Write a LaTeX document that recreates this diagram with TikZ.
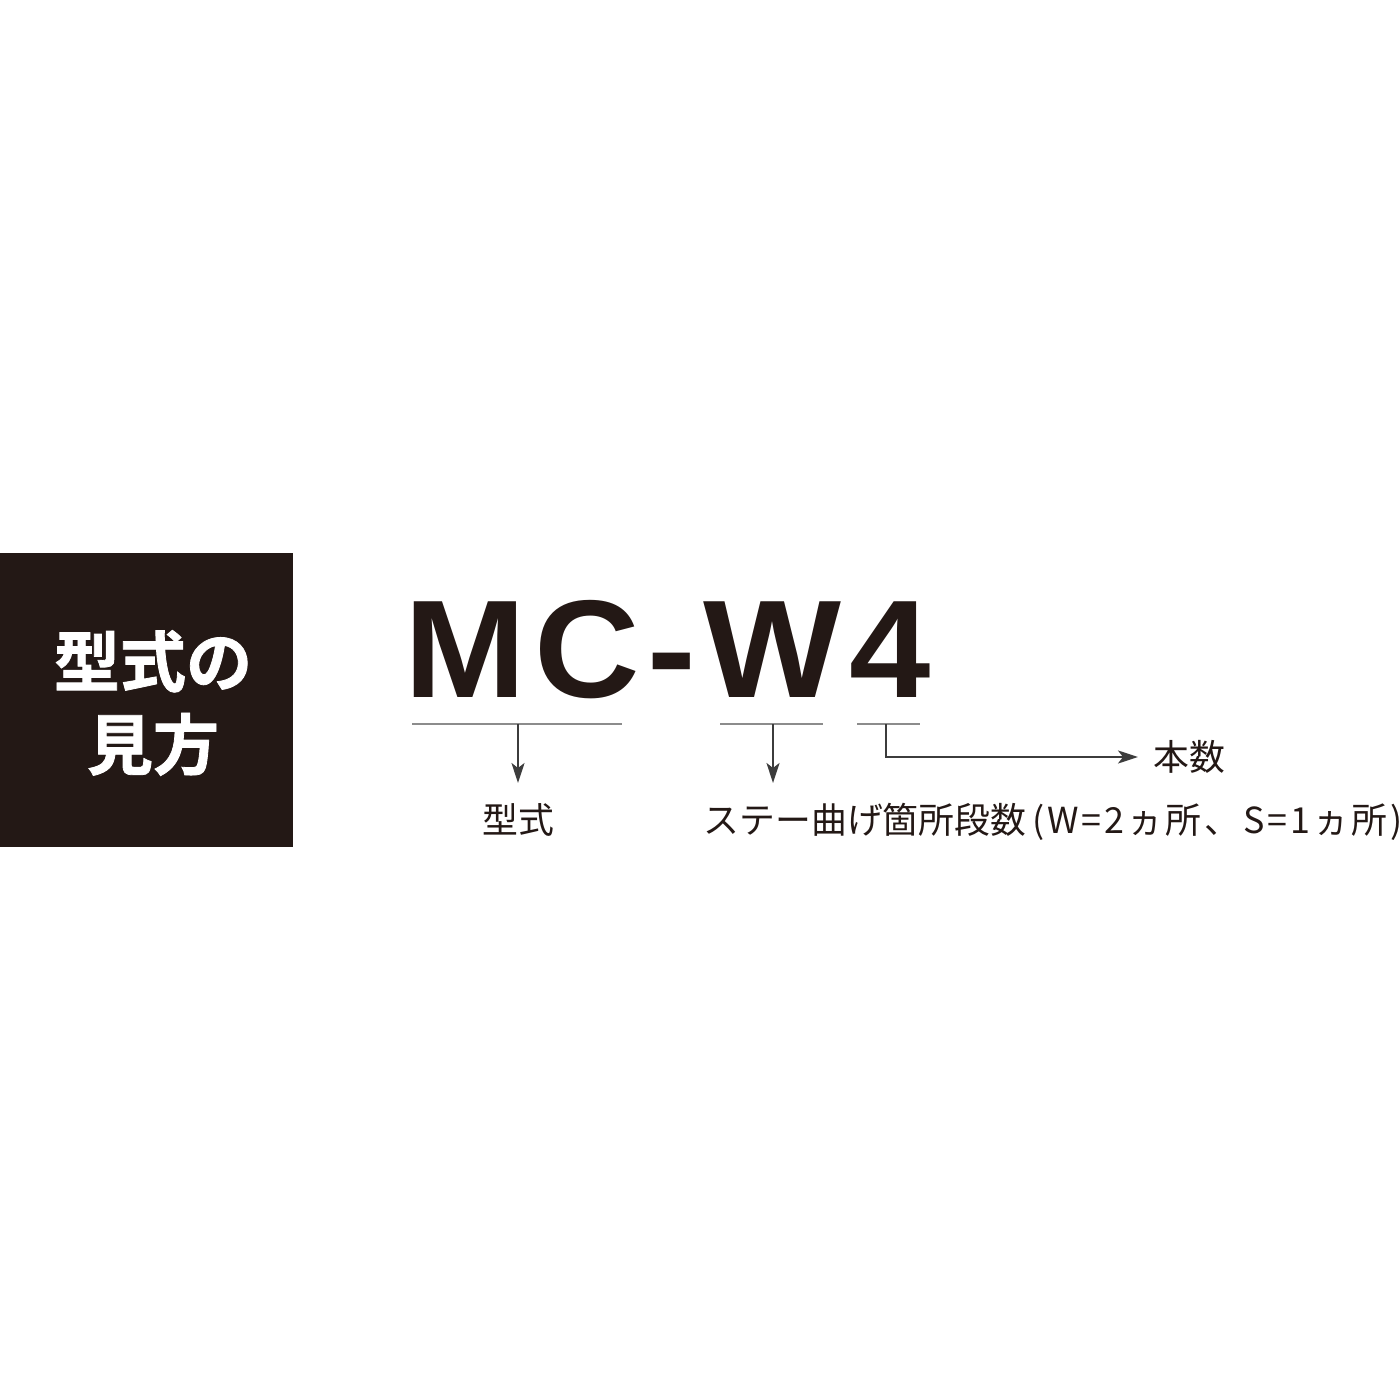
\documentclass[tikz,border=0pt]{standalone}
\usepackage{fontspec}
\setmainfont{Liberation Sans}
\newfontfamily\cjk{Noto Sans CJK JP}
\newfontfamily\cjkheavy[FakeBold=1.2]{Noto Sans CJK JP Bold}
\newfontfamily\modelfont[LetterSpace=5.5,FakeStretch=1.05]{Liberation Sans Bold}
\usetikzlibrary{arrows.meta}
\definecolor{boxdark}{HTML}{231815}
\definecolor{linegray}{HTML}{8C8C8C}
\definecolor{arrowgray}{HTML}{3C3C3C}
\tikzset{
	underline/.style={draw=linegray, line width=0.85pt},
	pointer/.style={draw=arrowgray, line width=0.6pt, -{Stealth[length=2mm,width=1.3mm,inset=0.5mm]}},
	label/.style={font=\cjk\fontsize{10.2}{12}\selectfont, text=boxdark, inner sep=0pt}
}
\begin{document}
\begin{tikzpicture}[x=0.1mm, y=-0.1mm]
	\useasboundingbox (0,0) rectangle (1400,1400);
	\fill[boxdark] (0,553) rectangle (293,847);
	\node[text=white, align=center, font=\cjkheavy\fontsize{18.8}{23.6}\selectfont] (title) at (153,703) {型式の\\見方};
	
	\node[anchor=base west, inner sep=0pt, text=boxdark, font=\modelfont\fontsize{39.6}{40}\selectfont] (model) at (404,698) {MC-W4};
	
	\coordinate (ul1a) at (412,724);
	\coordinate (ul1b) at (622,724);
	\coordinate (ul2a) at (720,724);
	\coordinate (ul2b) at (823,724);
	\coordinate (ul3a) at (857,724);
	\coordinate (ul3b) at (920,724);
	\coordinate (t1) at (518,724);
	\coordinate (t2) at (773,724);
	\coordinate (t3) at (886,724);
	
	\node[label, anchor=base] (type) at (518,833) {型式};
	\node[label, anchor=base west] (stay) at (703,833) {ステー曲げ箇所段数{\addfontfeatures{LetterSpace=8}\,(W=2ヵ所、S=1ヵ所)}};
	\node[label, anchor=west, inner xsep=1.5mm] (count) at (1138,757) {本数};
	
	\draw[underline] (ul1a) -- (ul1b);
	\draw[underline] (ul2a) -- (ul2b);
	\draw[underline] (ul3a) -- (ul3b);
	
	\draw[pointer] (t1) -- (t1 |- 0,783);
	\draw[pointer] (t2) -- (t2 |- 0,783);
	\draw[pointer] (t3) |- (count.west);
\end{tikzpicture}
\end{document}
